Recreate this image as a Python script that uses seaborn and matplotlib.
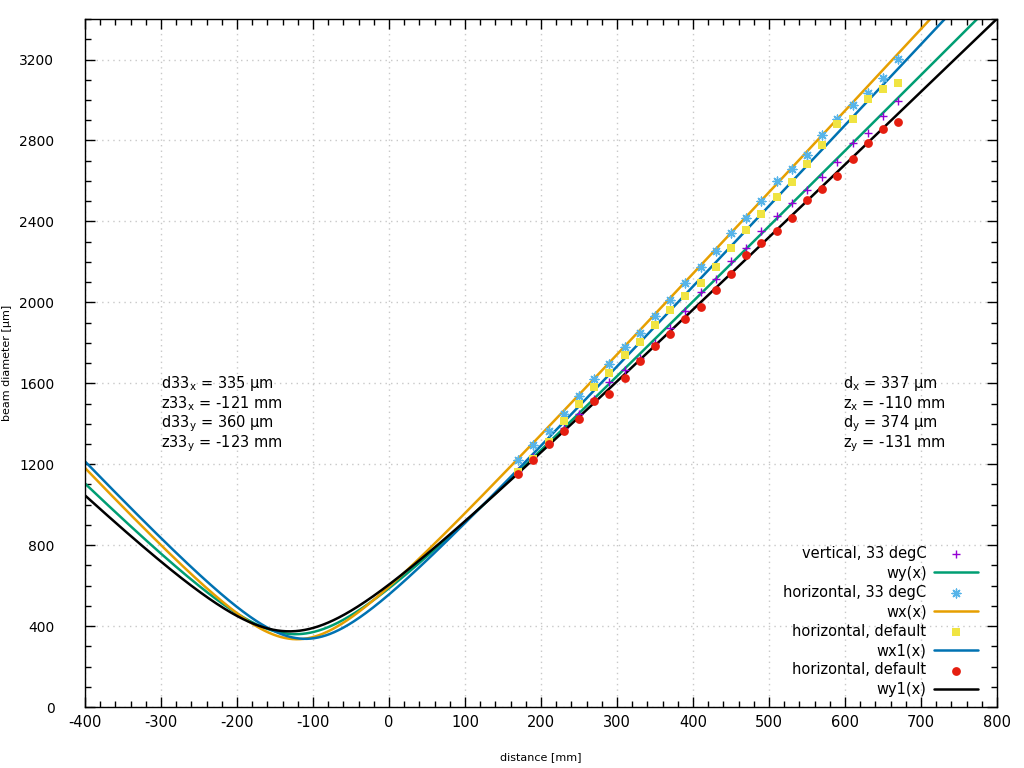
import numpy as np
import pandas as pd
import matplotlib
matplotlib.use('Agg')
import matplotlib.pyplot as plt
import seaborn as sns

# measured beam diameters [um] vs distance [mm]
distance = [170, 190, 210, 230, 250, 270, 290, 310, 330, 350, 370, 390, 410,
            430, 450, 470, 490, 510, 530, 550, 570, 590, 610, 630, 650, 670]

vert_33 = [1165, 1235, 1305, 1380, 1446, 1524, 1604, 1668, 1727, 1800, 1873, 1957, 2050,
           2117, 2204, 2268, 2354, 2425, 2490, 2557, 2619, 2693, 2787, 2838, 2919, 2993]
horiz_33 = [1220, 1294, 1364, 1447, 1536, 1620, 1697, 1779, 1850, 1931, 2013, 2095, 2176,
            2252, 2344, 2416, 2500, 2599, 2660, 2726, 2825, 2907, 2973, 3035, 3110, 3203]
horiz_def = [1160, 1228, 1312, 1414, 1496, 1582, 1651, 1738, 1802, 1886, 1960, 2030, 2096,
             2174, 2270, 2356, 2435, 2523, 2596, 2685, 2780, 2879, 2907, 3006, 3052, 3085]
horiz_def2 = [1154, 1220, 1299, 1363, 1421, 1513, 1549, 1628, 1709, 1783, 1842, 1920, 1979,
              2059, 2142, 2232, 2295, 2354, 2418, 2504, 2561, 2626, 2710, 2789, 2858, 2892]

# fitted gaussian beam parameters: waist diameter, waist position, rayleigh range
fit_names = ['wy(x)', 'wx(x)', 'wx1(x)', 'wy1(x)']
fit_d0 = [360, 335, 337, 374]
fit_z0 = [-123, -121, -110, -131]
fit_zr = [95.5, 82.5, 83.8, 103.0]


def beam(z, d0, z0, zr):
    return d0 * np.sqrt(1 + ((z - z0) / zr) ** 2)


sns.set_style('ticks')
plt.rcParams['font.family'] = ['DejaVu Sans']
plt.rcParams['axes.unicode_minus'] = False
plt.rcParams['text.color'] = 'black'
plt.rcParams['axes.labelcolor'] = 'black'
plt.rcParams['xtick.color'] = 'black'
plt.rcParams['ytick.color'] = 'black'
plt.rcParams['axes.edgecolor'] = 'black'

fig = plt.figure(figsize=(10.24, 7.68), dpi=100)
ax = fig.add_axes([0.083, 0.0794, 0.8906, 0.8958])

zz = np.linspace(-400, 800, 1201)
curves = {}
for name, d0, z0, zr in zip(fit_names, fit_d0, fit_z0, fit_zr):
    curves[name] = pd.DataFrame({'z': zz, 'd': beam(zz, d0, z0, zr)})

line_colors = {'wy(x)': '#009e73', 'wx(x)': '#e69f00', 'wx1(x)': '#0072b2', 'wy1(x)': 'black'}

pts = pd.DataFrame({'x': distance, 'v33': vert_33, 'h33': horiz_33,
                    'hdef': horiz_def, 'hdef2': horiz_def2})

sns.scatterplot(data=pts, x='x', y='v33', ax=ax, marker='+', color='#9400d3',
                s=40, linewidth=1.0, label='vertical, 33 degC', zorder=3)
sns.lineplot(data=curves['wy(x)'], x='z', y='d', ax=ax, color=line_colors['wy(x)'],
             lw=1.8, label='wy(x)')
sns.scatterplot(data=pts, x='x', y='h33', ax=ax, marker=(8, 2, 0), color='#56b4e9',
                s=40, linewidth=1.0, label='horizontal, 33 degC', zorder=3)
sns.lineplot(data=curves['wx(x)'], x='z', y='d', ax=ax, color=line_colors['wx(x)'],
             lw=1.8, label='wx(x)')
sns.scatterplot(data=pts, x='x', y='hdef', ax=ax, marker='s', color='#f0e442',
                s=38, linewidth=0, label='horizontal, default', zorder=3)
sns.lineplot(data=curves['wx1(x)'], x='z', y='d', ax=ax, color=line_colors['wx1(x)'],
             lw=1.8, label='wx1(x)')
sns.scatterplot(data=pts, x='x', y='hdef2', ax=ax, marker='o', color='#e51e10',
                s=40, linewidth=0, label='horizontal, default', zorder=3)
sns.lineplot(data=curves['wy1(x)'], x='z', y='d', ax=ax, color=line_colors['wy1(x)'],
             lw=1.8, label='wy1(x)')

ax.set_xlim(-400, 800)
ax.set_ylim(0, 3400)
ax.set_xticks(np.arange(-400, 801, 100))
ax.set_yticks(np.arange(0, 3201, 400))
ax.set_xticks(np.arange(-400, 801, 20), minor=True)
ax.set_yticks(np.arange(0, 3401, 100), minor=True)
ax.tick_params(which='both', direction='in', top=True, right=True, labelsize=10.5)
ax.tick_params(axis='y', labelsize=10)
ax.tick_params(which='major', length=7, width=1)
ax.tick_params(which='minor', length=4, width=1)
ax.tick_params(axis='y', which='major', pad=22)
ax.tick_params(axis='x', which='major', pad=6)
ax.grid(True, which='major', color='#c8c8c8', linestyle=(0, (1, 3)), lw=1)
for sp in ax.spines.values():
    sp.set_linewidth(1)

ax.set_xlabel('distance [mm]', fontsize=8)
ax.xaxis.set_label_coords(0.5, -0.065)
ax.set_ylabel('beam diameter [µm]', fontsize=8)
ax.yaxis.set_label_coords(-0.08, 0.5)

left_txt = [r'd33$_\mathrm{x}$ = 335 µm', r'z33$_\mathrm{x}$ = -121 mm',
            r'd33$_\mathrm{y}$ = 360 µm', r'z33$_\mathrm{y}$ = -123 mm']
right_txt = [r'd$_\mathrm{x}$ = 337 µm', r'z$_\mathrm{x}$ = -110 mm',
             r'd$_\mathrm{y}$ = 374 µm', r'z$_\mathrm{y}$ = -131 mm']
for i, (lt, rt) in enumerate(zip(left_txt, right_txt)):
    yy = 1600 - i * 100
    ax.text(-300, yy, lt, fontsize=10.5, va='center', ha='left')
    ax.text(597, yy, rt, fontsize=10.5, va='center', ha='left')

ax.legend(loc='lower right', bbox_to_anchor=(0.99, 0.0), frameon=False, markerfirst=False,
          fontsize=10.5, handlelength=3.0, labelspacing=0.3, borderaxespad=0.3,
          handletextpad=0.5)

fig.savefig('out.png', dpi=100)
